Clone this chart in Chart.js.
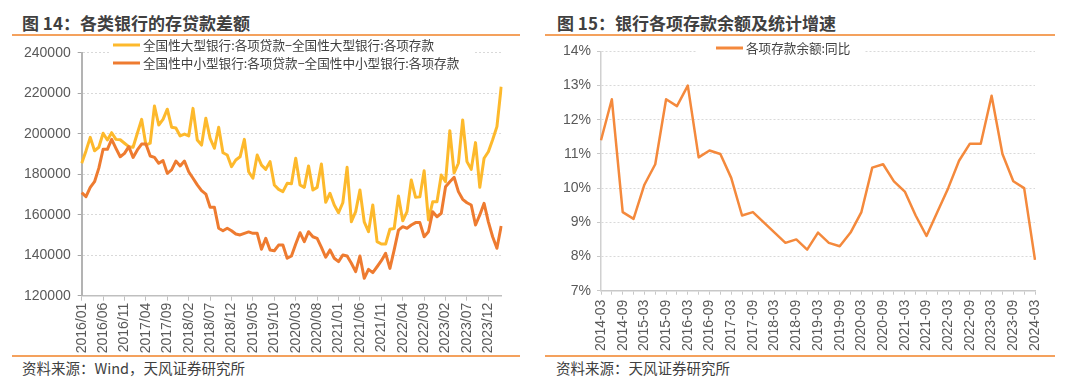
<!DOCTYPE html>
<html>
<head>
<meta charset="utf-8">
<script src="https://cdn.jsdelivr.net/npm/chart.js@4.4.0/dist/chart.umd.min.js"></script>
<style>
  body { margin: 0; width: 1080px; height: 388px; background: #fff; position: relative; overflow: hidden;
         font-family: "Noto Sans CJK SC", sans-serif; color: #404040; }
  .title { position: absolute; top: 13px; font-size: 17px; font-weight: bold; line-height: 20px; white-space: nowrap; }
  .rule { position: absolute; height: 2px; background: #F4A15D; }
  .src { position: absolute; top: 359px; font-size: 14.5px; line-height: 18px; white-space: nowrap; }
  .box { position: absolute; top: 37px; width: 520px; height: 318px; }
</style>
</head>
<body>
<div class="title" style="left:22px">图 14：各类银行的存贷款差额</div>
<div class="rule" style="left:12px;width:508px;top:34px"></div>
<div class="box" style="left:0"><canvas id="c1" width="520" height="318"></canvas></div>
<div class="rule" style="left:12px;width:508px;top:355px"></div>
<div class="src" style="left:22px">资料来源：Wind，天风证券研究所</div>

<div class="title" style="left:557px">图 15：银行各项存款余额及统计增速</div>
<div class="rule" style="left:545px;width:510px;top:34px"></div>
<div class="box" style="left:540px"><canvas id="c2" width="520" height="318"></canvas></div>
<div class="rule" style="left:545px;width:510px;top:355px"></div>
<div class="src" style="left:556px">资料来源：天风证券研究所</div>

<script>
// 图14：月度，2016/01 - 2024/03
const months = [];
for (let y = 2016; y <= 2024; y++) {
  for (let m = 1; m <= 12; m++) {
    if (y === 2024 && m > 3) break;
    months.push(y + '/' + String(m).padStart(2, '0'));
  }
}
const largeName = '全国性大型银行:各项贷款−全国性大型银行:各项存款';
const smallName = '全国性中小型银行:各项贷款−全国性中小型银行:各项存款';
const largeGap = [
  185400, 191500, 198200, 191600, 193300, 200200, 196900, 200500, 197200, 197000,
  195300, 193600, 193300, 200200, 207100, 194400, 195300, 213700, 204300, 207100,
  212100, 203200, 202800, 198900, 199800, 198900, 212500, 196900, 194400, 207600,
  197700, 192800, 203200, 190600, 189500, 183700, 187000, 188600, 197200, 181200,
  178000, 189500, 184500, 182400, 186200, 174700, 172500, 171400, 175500, 175300,
  187900, 174700, 173500, 184100, 172200, 173500, 185000, 166100, 170600, 164800,
  161000, 165900, 183400, 156500, 161500, 172200, 156500, 151600, 164800, 146700,
  145500, 145500, 152800, 153200, 169200, 157000, 161500, 177100, 168600, 168800,
  181700, 157400, 166400, 166400, 179600, 176300, 201500, 180600, 185400, 206800,
  186200, 182400, 195600, 173500, 187900, 191100, 197000, 203500, 223200
];
const smallGap = [
  170900, 168900, 173500, 176300, 183000, 192300, 192300, 197200, 192800, 188600,
  190300, 193600, 188300, 192000, 194900, 194900, 189000, 188300, 185400, 186700,
  180400, 182100, 186500, 184100, 186500, 181200, 178000, 174700, 171900, 170200,
  163700, 163700, 153300, 152100, 153300, 152100, 150500, 150000, 150800, 151500,
  150800, 150800, 142900, 148300, 142600, 142200, 145000, 145000, 138500, 139600,
  145500, 151100, 146700, 151600, 149100, 148300, 143900, 139000, 142600, 138500,
  136800, 140100, 139600, 136000, 131900, 139600, 128600, 133000, 131400, 134300,
  137300, 140900, 133500, 142600, 152400, 154100, 153300, 154900, 156100, 156100,
  149100, 151600, 161500, 159000, 160700, 173800, 176300, 178500, 171400, 167600,
  165900, 164800, 154900, 159900, 165600, 156500, 149100, 143400, 154400
];

// 图15：季度，2014-03 - 2024-03
const quarters = [];
for (let y = 2014; y <= 2024; y++) {
  for (const m of ['03', '06', '09', '12']) {
    if (y === 2024 && m !== '03') break;
    quarters.push(y + '-' + m);
  }
}
const depositName = '各项存款余额:同比';
const depositYoY = [
  11.4, 12.6, 9.3, 9.1, 10.1, 10.7, 12.6, 12.4, 13.0, 10.9,
  11.1, 11.0, 10.3, 9.2, 9.3, 9.0, 8.7, 8.4, 8.5, 8.2,
  8.7, 8.4, 8.3, 8.7, 9.3, 10.6, 10.7, 10.2, 9.9, 9.2,
  8.6, 9.3, 10.0, 10.8, 11.3, 11.3, 12.7, 11.0, 10.2, 10.0,
  7.9
];

const YELLOW = '#FDB92C';
const ORANGE = '#EE7B30';
const LINE2 = '#F4893C';
const tickFont = { family: 'Liberation Sans', size: 14 };

// legend drawn inside the plot, on a white box
const boxLegend = {
  id: 'boxLegend',
  beforeDatasetsDraw(chart, args, opts) {
    const ctx = chart.ctx;
    ctx.save();
    ctx.fillStyle = '#fff';
    ctx.fillRect(opts.box[0], opts.box[1], opts.box[2], opts.box[3]);
    ctx.font = '12.6px "Noto Sans CJK SC"';
    ctx.textBaseline = 'middle';
    chart.data.datasets.forEach((ds, i) => {
      const y = opts.y + i * opts.row;
      ctx.strokeStyle = ds.borderColor;
      ctx.lineWidth = 3;
      ctx.beginPath();
      ctx.moveTo(opts.x, y);
      ctx.lineTo(opts.x + 27, y);
      ctx.stroke();
      ctx.fillStyle = '#404040';
      ctx.fillText(ds.label, opts.x + 30, y + 0.5);
    });
    ctx.restore();
  }
};

new Chart(document.getElementById('c1'), {
  type: 'line',
  plugins: [boxLegend],
  data: {
    labels: months,
    datasets: [
      { label: largeName, data: largeGap, borderColor: YELLOW, borderWidth: 3, pointRadius: 0, order: 2 },
      { label: smallName, data: smallGap, borderColor: ORANGE, borderWidth: 3, pointRadius: 0, order: 1 }
    ]
  },
  options: {
    responsive: false,
    animation: false,
    layout: { padding: { top: 15.7, right: 12, left: 0, bottom: 0 } },
    plugins: {
      legend: { display: false },
      tooltip: { enabled: false },
      boxLegend: { box: [110, 0, 363, 34], x: 113, y: 8, row: 18 }
    },
    elements: { line: { borderJoinStyle: 'round', tension: 0 } },
    scales: {
      x: {
        offset: false,
        grid: {
          drawOnChartArea: false, tickLength: 5,
          tickColor: c => (c.index % 5 === 0 ? '#bfbfbf' : 'rgba(0,0,0,0)')
        },
        border: { color: '#bfbfbf', width: 1.5 },
        ticks: {
          autoSkip: false, maxRotation: 90, minRotation: 90, padding: 2,
          color: '#595959', font: tickFont,
          callback: (v, i) => (i % 5 === 0 ? months[i] : '')
        },
        afterFit(s) { s.height = 59.3; }
      },
      y: {
        min: 120000, max: 240000,
        ticks: { stepSize: 20000, padding: 7, color: '#595959', font: tickFont, callback: v => String(v) },
        grid: { color: '#d9d9d9', tickColor: '#a6a6a6', tickLength: 4 },
        border: { color: '#b3b3b3', width: 2, dash: [2, 2] },
        afterFit(s) { s.width = 81.7; }
      }
    }
  }
});

new Chart(document.getElementById('c2'), {
  type: 'line',
  plugins: [boxLegend],
  data: {
    labels: quarters,
    datasets: [
      { label: depositName, data: depositYoY, borderColor: LINE2, borderWidth: 2.5, pointRadius: 0 }
    ]
  },
  options: {
    responsive: false,
    animation: false,
    layout: { padding: { top: 7, right: 25, left: 0, bottom: 0 } },
    plugins: {
      legend: { display: false },
      tooltip: { enabled: false },
      boxLegend: { box: [157, 0, 168, 20], x: 176, y: 11, row: 18 }
    },
    elements: { line: { borderJoinStyle: 'round', tension: 0 } },
    scales: {
      x: {
        offset: false,
        grid: { drawOnChartArea: false, tickLength: 4, tickColor: '#c8c8c8' },
        border: { color: '#c8c8c8', width: 1.5 },
        ticks: {
          autoSkip: false, maxRotation: 90, minRotation: 90, padding: 5,
          color: '#595959', font: tickFont,
          callback: (v, i) => (i % 2 === 0 ? quarters[i] : '')
        },
        afterFit(s) { s.height = 64.3; }
      },
      y: {
        min: 7, max: 14,
        ticks: { stepSize: 1, padding: 6, color: '#595959', font: tickFont, callback: v => v + '%' },
        grid: { color: '#d9d9d9', tickColor: '#c8c8c8', tickLength: 4 },
        border: { color: '#d0d0d0', width: 1.5, dash: [2, 2] },
        afterFit(s) { s.width = 61; }
      }
    }
  }
});
</script>
</body>
</html>
